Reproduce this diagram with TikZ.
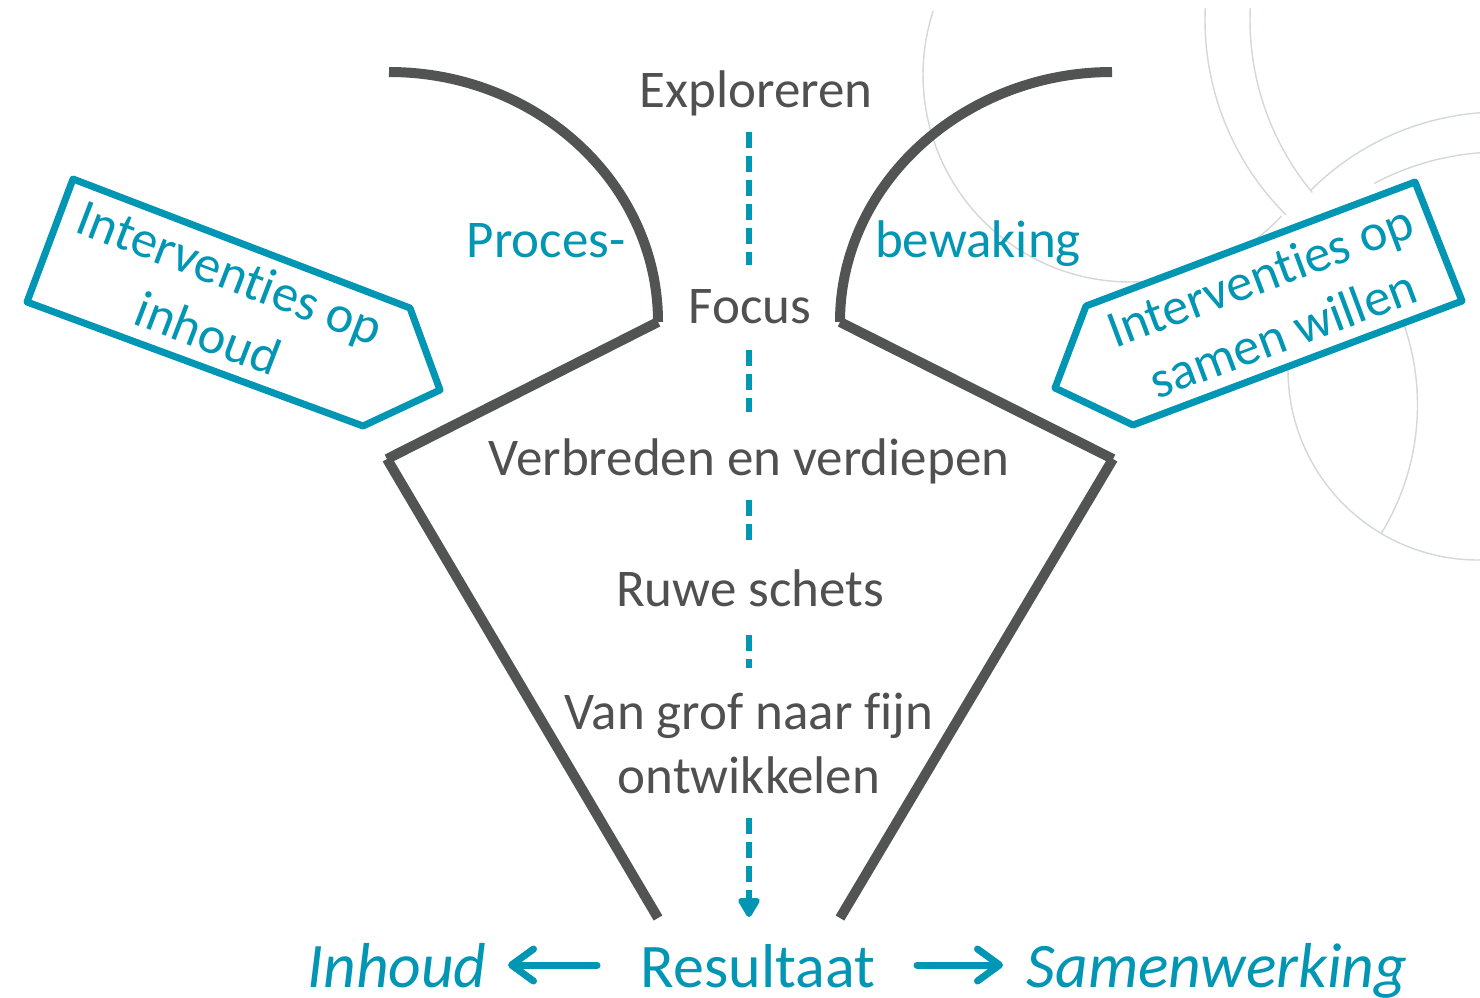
\documentclass[tikz,border=0pt]{standalone}
\usepackage{fontspec}
\setmainfont{Carlito}[Ligatures={NoCommon,NoContextual}]
\usetikzlibrary{arrows.meta}
\definecolor{teal1}{RGB}{0,150,180}
\definecolor{dgrey}{RGB}{82,84,84}
\definecolor{tgrey}{RGB}{80,80,80}
\definecolor{bggrey}{RGB}{212,216,216}
\begin{document}
\begin{tikzpicture}[x=1pt,y=-1pt,
 bgline/.style={draw=bggrey, line width=1.4pt},
 frameline/.style={draw=dgrey, line width=10pt},
 boxshape/.style={draw=teal1, line width=7pt, fill=white, line join=round},
 mtxt/.style={text=tgrey, font={\fontsize{53}{63}\selectfont}, anchor=base, inner sep=0pt},
 ttxt/.style={text=teal1, font={\fontsize{53}{63}\selectfont}, anchor=base, inner sep=0pt},
 btxt/.style={text=teal1, font={\fontsize{52.5}{62}\selectfont}, anchor=base, inner sep=0pt},
 restxt/.style={text=teal1, font={\fontsize{62}{74}\selectfont}, anchor=base, inner sep=0pt},
 itxt/.style={text=teal1, font={\fontsize{63.5}{76}\selectfont\itshape}, anchor=base, inner sep=0pt},
 flowline/.style={draw=teal1, line width=6pt, dash pattern=on 16pt off 8pt},
 sidearrow/.style={draw=teal1, line width=7pt, line cap=round, -{Straight Barb[round,length=22pt,width=32pt]}},
]
\fill[white] (0,0) rectangle (1480,997);
\useasboundingbox (0,0) rectangle (1480,997);

% background decorative arcs
\begin{scope}
\clip (0,8) rectangle (1480,997);
\draw[bgline] plot[domain=43:198, samples=80] ({1130+207*cos(\x)},{75+207*sin(\x)});
\draw[bgline] plot[domain=134.9:184, samples=50] ({1480+275*cos(\x)},{20+275*sin(\x)});
\draw[bgline] plot[domain=140.3:184, samples=50] ({1520+270*cos(\x)},{20+270*sin(\x)});
\draw[bgline] plot[domain=225.2:265.7, samples=40] ({1500+268*cos(\x)},{380+268*sin(\x)});
\draw[bgline] plot[domain=242:265.7, samples=30] ({1500+268*cos(\x)},{420+268*sin(\x)});
\draw[bgline] plot[domain=89.4:184, samples=70] ({1478+190*cos(\x)},{370+190*sin(\x)});
\draw[bgline] plot[domain=-22:31.4, samples=50] ({1172+245.5*cos(\x)},{405+245.5*sin(\x)});
\end{scope}

% funnel frame
\draw[frameline] (389,72) .. controls (537.6,72) and (658,184) .. (658,322);
\draw[frameline] (658,322) -- (387,459);
\draw[frameline] (387,459) -- (658,918);
\draw[frameline] (1112,72) .. controls (963.4,72) and (840,184) .. (840,322);
\draw[frameline] (840,322) -- (1113,459);
\draw[frameline] (1113,459) -- (840,918);

% intervention boxes
\draw[boxshape] (73,179) -- (410,308) -- (440,390) -- (363,426) -- (27,302) -- cycle;
\draw[boxshape] (1086,306) -- (1415,182) -- (1462,301) -- (1133,425) -- (1055,388) -- cycle;
\node[btxt, rotate=-21] (lb1) at (224,289) {Interventies op};
\node[btxt, rotate=-21] (lb2) at (202,350) {inhoud};
\node[btxt, rotate=20.5] (rb1) at (1266,292) {Interventies op};
\node[btxt, rotate=20.5] (rb2) at (1289,350) {samen willen};

% texts
\node[mtxt] (explo) at (756,107) {Exploreren};
\node[ttxt] (proces) at (546,257) {Proces-};
\node[ttxt] (bewak) at (978,257) {bewaking};
\node[mtxt] (focus) at (750,323) {Focus};
\node[mtxt] (verbr) at (749,475) {Verbreden en verdiepen};
\node[mtxt] (ruwe) at (750,606) {Ruwe schets};
\node[mtxt] (van) at (749,729) {Van grof naar fijn};
\node[mtxt] (ontw) at (749,793) {ontwikkelen};
\node[restxt] (res) at (758,987) {Resultaat};
\node[itxt] (inh) at (397,987) {Inhoud};
\node[itxt] (samen) at (1217,987) {Samenwerking};

% flow connectors
\coordinate (d1a) at (749,132); \coordinate (d1b) at (749,265);
\coordinate (d2a) at (749,350); \coordinate (d2b) at (749,412);
\coordinate (d3a) at (749,500); \coordinate (d3b) at (749,545);
\coordinate (d4a) at (749,635); \coordinate (d4b) at (749,668);
\coordinate (d5a) at (749,818); \coordinate (d5b) at (749,917);
\draw[flowline] (d1a) -- (d1b);
\draw[flowline] (d2a) -- (d2b);
\draw[flowline] (d3a) -- (d3b);
\draw[flowline] (d4a) -- (d4b);
\draw[flowline, -{Triangle[round,length=22pt,width=24pt]}] (d5a) -- (d5b);

% side arrows
\coordinate (la) at (597,965); \coordinate (lb) at (508,965);
\coordinate (ra) at (917,965); \coordinate (rb) at (1003,965);
\draw[sidearrow] (la) -- (lb);
\draw[sidearrow] (ra) -- (rb);
\end{tikzpicture}
\end{document}
